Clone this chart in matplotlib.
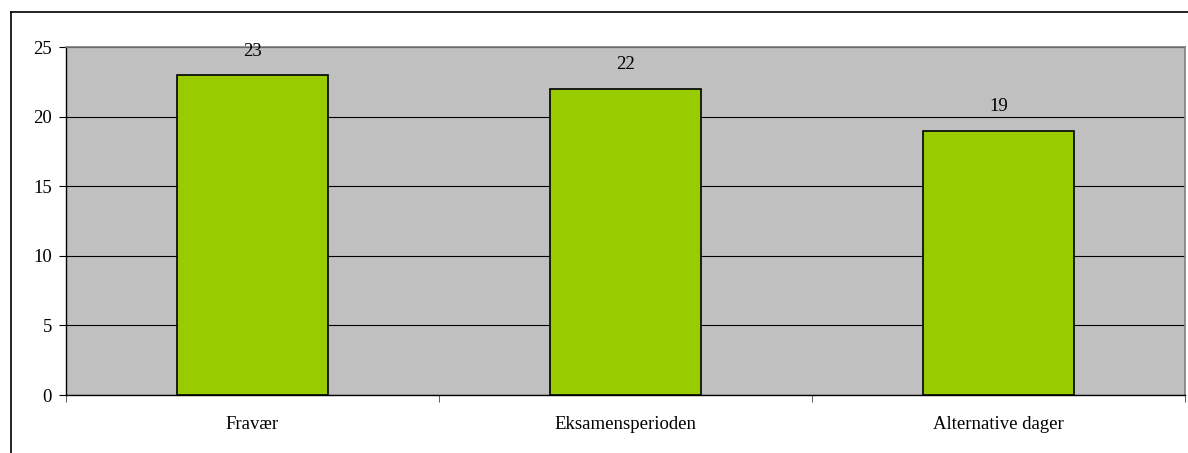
import matplotlib
matplotlib.use("Agg")
import matplotlib.pyplot as plt
from matplotlib.lines import Line2D

categories = ["Fravær", "Eksamensperioden", "Alternative dager"]
values = [23, 22, 19]
yticks = [0, 5, 10, 15, 20, 25]

plt.rcParams['font.family'] = ['Liberation Serif', 'DejaVu Serif']

W, H = 1188, 453
FS = 13.5
fig = plt.figure(figsize=(W/100, H/100), dpi=100)
ax = fig.add_axes([66/W, 1-395/H, (1185-66)/W, (395-47)/H])
ax.set_facecolor('#C0C0C0')

x = list(range(len(categories)))
bars = ax.bar(x, values, width=0.405, color='#99CC00', edgecolor='black', linewidth=1.2, zorder=3)
for xi, v in zip(x, values):
    ax.annotate(str(v), (xi, v), xytext=(0, 11), textcoords='offset points',
                ha='center', va='bottom', fontsize=FS, color='black')

ax.set_xlim(-0.5, len(categories)-0.5)
ax.set_ylim(0, 25)
ax.set_yticks(yticks)
ax.set_yticklabels([str(t) for t in yticks], fontsize=FS)
ax.yaxis.grid(True, color='black', linewidth=0.8, zorder=1)
ax.set_axisbelow(True)

ax.set_xticks(x)
ax.set_xticklabels(categories, fontsize=FS)
ax.tick_params(axis='x', length=0, pad=15)
ax.set_xticks([-0.5, 0.5, 1.5, 2.5], minor=True)
ax.tick_params(axis='x', which='minor', length=5, direction='out', color='#404040')
ax.tick_params(axis='y', length=5, direction='out', pad=5)

for s in ['top', 'right']:
    ax.spines[s].set_color('#808080')
    ax.spines[s].set_linewidth(1.2)
for s in ['left', 'bottom']:
    ax.spines[s].set_color('black')
    ax.spines[s].set_linewidth(1.0)

# outer chart border (clipped by image edge at right/bottom)
fig.add_artist(Line2D([11/W, 11/W], [0, 1-12/H], color='black', linewidth=1.2))
fig.add_artist(Line2D([11/W, 1], [1-12/H, 1-12/H], color='black', linewidth=1.2))

fig.savefig("out.png", dpi=100, facecolor='white')
